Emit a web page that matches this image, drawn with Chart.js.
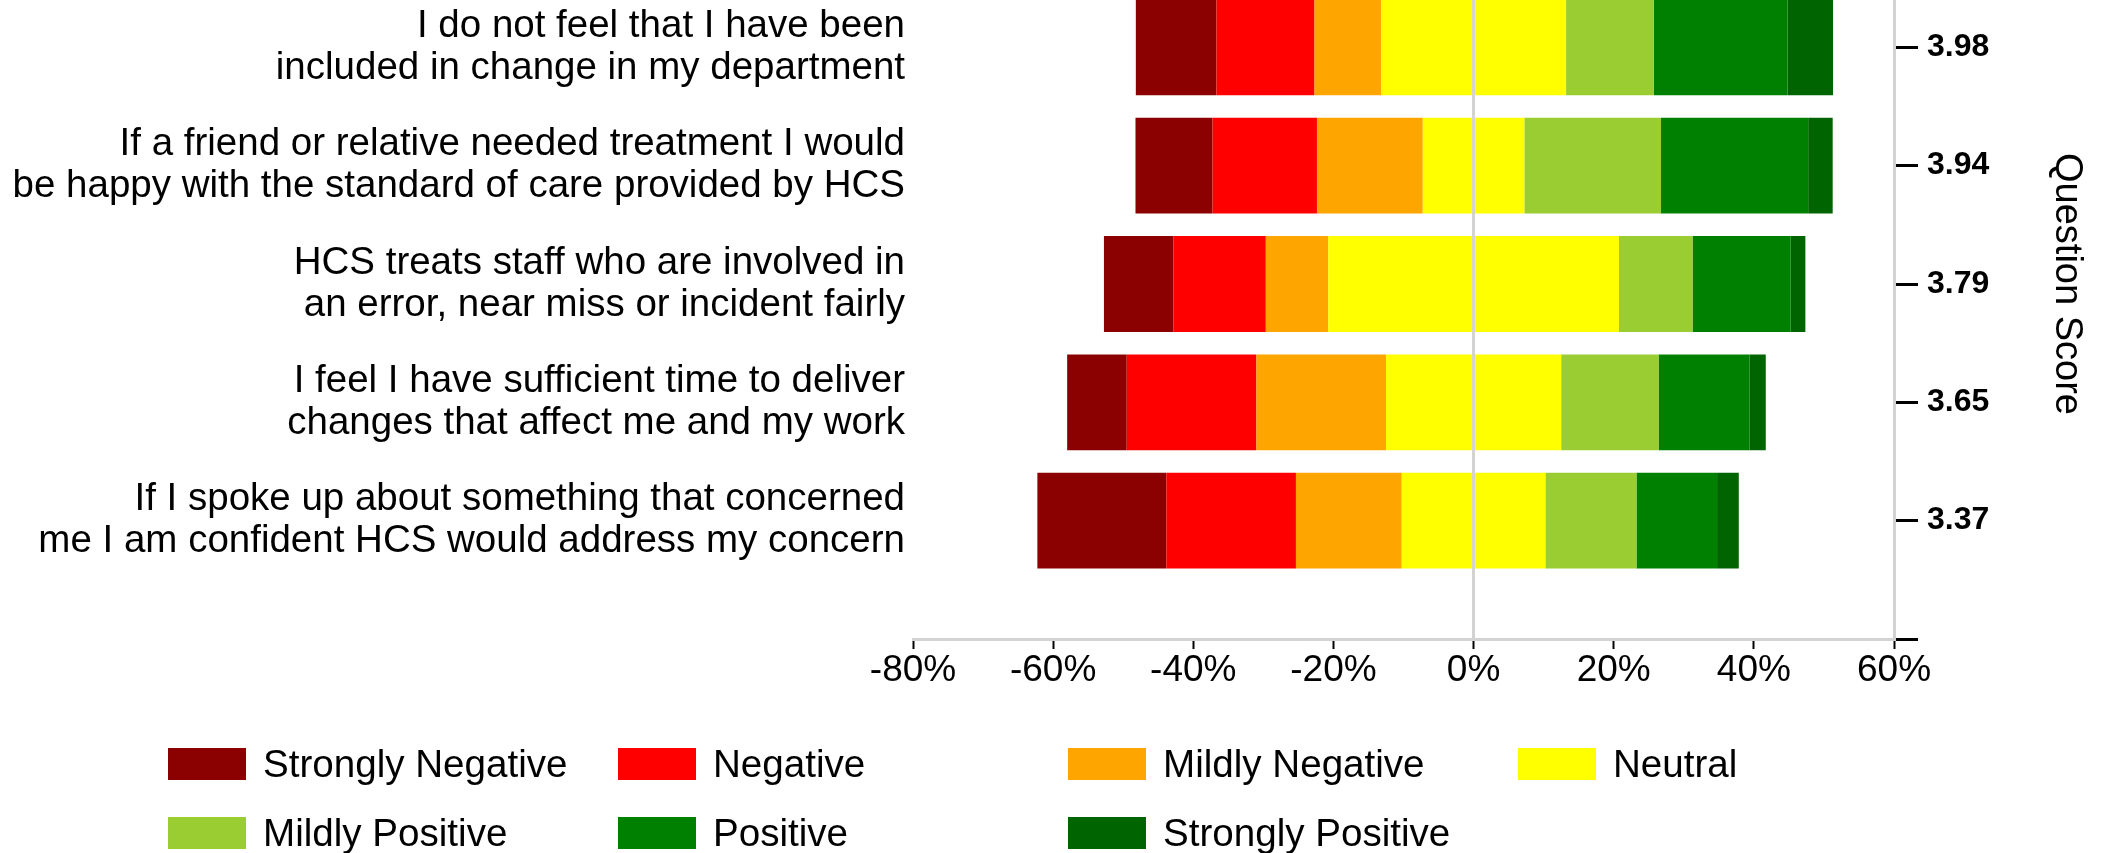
<!DOCTYPE html>
<html>
<head>
<meta charset="utf-8">
<title>Staff survey – diverging response chart</title>
<script src="https://cdn.jsdelivr.net/npm/chart.js@4.4.1/dist/chart.umd.min.js"></script>
<style>
  html, body { margin: 0; padding: 0; background: #ffffff; }
  body { width: 2103px; height: 853px; position: relative; overflow: hidden;
         font-family: "Liberation Sans", Arial, Helvetica, sans-serif; }
  #chart { position: absolute; left: 0; top: -71px; }
  #legend { position: absolute; left: 0; top: 0; width: 2103px; height: 853px; pointer-events: none; }
  .item { position: absolute; height: 32px; display: flex; align-items: center; }
  .swatch { width: 78px; height: 32px; flex: none; }
  .label { margin-left: 17px; font-size: 38.6px; line-height: 32px; color: #000; white-space: nowrap; }
</style>
</head>
<body>
<canvas id="chart" width="2103" height="924"></canvas>
<div id="legend"></div>
<script>
// Survey questions (two-line labels), top to bottom
const questions = [
  ['I do not feel that I have been', 'included in change in my department'],
  ['If a friend or relative needed treatment I would', 'be happy with the standard of care provided by HCS'],
  ['HCS treats staff who are involved in', 'an error, near miss or incident fairly'],
  ['I feel I have sufficient time to deliver', 'changes that affect me and my work'],
  ['If I spoke up about something that concerned', 'me I am confident HCS would address my concern']
];

// Mean score for each question
const scores = ['3.98', '3.94', '3.79', '3.65', '3.37'];

// Share of responses (%) per question
const stronglyNegative = [11.5, 11.0, 9.9, 8.5, 18.4];
const negative         = [14.0, 14.9, 13.2, 18.5, 18.5];
const mildlyNegative   = [9.5, 15.1, 8.9, 18.5, 15.1];
const neutral          = [26.4, 14.5, 41.5, 25.0, 20.5];
const mildlyPositive   = [12.5, 19.5, 10.5, 13.9, 13.0];
const positive         = [19.1, 21.0, 14.0, 13.0, 11.5];
const stronglyPositive = [6.5, 3.5, 2.1, 2.3, 3.1];

// Percentage axis ticks
const xTicks = [-80, -60, -40, -20, 0, 20, 40, 60];

// Response categories in legend order
const seriesNames = ['Strongly Negative', 'Negative', 'Mildly Negative', 'Neutral',
                     'Mildly Positive', 'Positive', 'Strongly Positive'];

const palette = {
  'Strongly Negative': '#8b0000',
  'Negative': '#ff0000',
  'Mildly Negative': '#ffa500',
  'Neutral': '#ffff00',
  'Mildly Positive': '#9acd32',
  'Positive': '#008000',
  'Strongly Positive': '#006400'
};

const FONT = '"Liberation Sans", Arial, Helvetica, sans-serif';
const toLeft = arr => arr.map(v => -v);
const halfLeft = arr => arr.map(v => -v / 2);
const halfRight = arr => arr.map(v => v / 2);

// Negative stack grows leftwards from 0 (first dataset nearest the centre),
// positive stack grows rightwards; neutral is split across the centre line.
const datasets = [
  { label: 'Neutral', data: halfLeft(neutral) },
  { label: 'Mildly Negative', data: toLeft(mildlyNegative) },
  { label: 'Negative', data: toLeft(negative) },
  { label: 'Strongly Negative', data: toLeft(stronglyNegative) },
  { label: 'Neutral', data: halfRight(neutral) },
  { label: 'Mildly Positive', data: mildlyPositive },
  { label: 'Positive', data: positive },
  { label: 'Strongly Positive', data: stronglyPositive }
].map(ds => Object.assign(ds, { backgroundColor: palette[ds.label], borderWidth: 0 }));

new Chart(document.getElementById('chart'), {
  type: 'bar',
  data: {
    labels: questions.map((q, i) => i),
    datasets
  },
  options: {
    indexAxis: 'y',
    responsive: false,
    animation: false,
    events: [],
    layout: { padding: 0 },
    datasets: { bar: { categoryPercentage: 1, barPercentage: 0.81 } },
    plugins: { legend: { display: false }, tooltip: { enabled: false } },
    scales: {
      x: {
        type: 'linear',
        stacked: true,
        min: -80,
        max: 60,
        offset: false,
        afterBuildTicks: s => { s.ticks = xTicks.map(v => ({ value: v })); },
        afterFit: s => { s.height = 214; s.paddingLeft = 0; s.paddingRight = 0; },
        grid: {
          offset: false,
          color: c => (c.tick && c.tick.value === 0) ? '#d3d3d3' : 'rgba(0,0,0,0)',
          lineWidth: 3,
          drawTicks: true,
          tickLength: 10,
          tickColor: '#000000',
          tickWidth: 2
        },
        border: { color: '#d3d3d3', width: 3 },
        ticks: {
          color: '#000000',
          font: { family: FONT, size: 37, lineHeight: 1 },
          padding: 3,
          maxRotation: 0,
          autoSkip: false,
          callback: v => v + '%'
        }
      },
      y: {
        type: 'linear',
        stacked: true,
        reverse: true,
        min: -1,
        max: 5,
        offset: false,
        position: 'left',
        afterBuildTicks: s => { s.ticks = questions.map((q, i) => ({ value: i })); },
        afterFit: s => { s.width = 913; s.paddingTop = 0; s.paddingBottom = 0; },
        grid: { display: false, drawTicks: false, offset: false },
        border: { display: false },
        ticks: {
          color: '#000000',
          font: { family: FONT, size: 38.5, lineHeight: 1.09 },
          padding: 8,
          autoSkip: false,
          callback: v => questions[v]
        }
      },
      y2: {
        type: 'linear',
        reverse: true,
        min: -1,
        max: 5,
        offset: false,
        position: 'right',
        afterBuildTicks: s => { s.ticks = [-1, 0, 1, 2, 3, 4, 5].map(v => ({ value: v })); },
        afterFit: s => { s.width = 209; s.paddingTop = 0; s.paddingBottom = 0; },
        grid: {
          offset: false,
          drawOnChartArea: false,
          drawTicks: true,
          tickLength: 24,
          tickColor: '#000000',
          tickWidth: 3
        },
        border: { color: '#d3d3d3', width: 3 },
        ticks: {
          color: '#000000',
          font: { family: FONT, size: 32, weight: 'bold' },
          padding: 9,
          autoSkip: false,
          callback: v => (scores[v] !== undefined ? scores[v] : '')
        },
        title: {
          display: true,
          text: 'Question Score',
          color: '#000000',
          font: { family: FONT, size: 38, lineHeight: 1.2 },
          padding: { top: 14, bottom: 0 }
        }
      }
    }
  }
});

// Legend: four fixed-width columns, two rows
const legend = document.getElementById('legend');
seriesNames.forEach((name, i) => {
  const col = i % 4;
  const row = Math.floor(i / 4);
  const item = document.createElement('div');
  item.className = 'item';
  item.style.left = (168 + col * 450) + 'px';
  item.style.top = (748 + row * 69) + 'px';
  const swatch = document.createElement('div');
  swatch.className = 'swatch';
  swatch.style.background = palette[name];
  const label = document.createElement('span');
  label.className = 'label';
  label.textContent = name;
  item.appendChild(swatch);
  item.appendChild(label);
  legend.appendChild(item);
});
</script>
</body>
</html>
